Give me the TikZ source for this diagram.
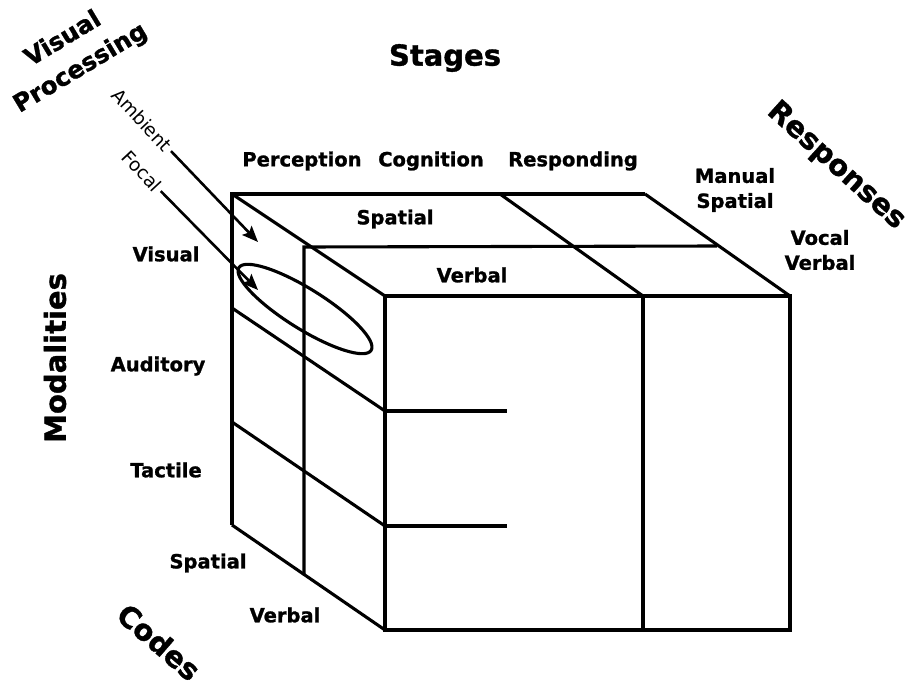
\documentclass[tikz,border=0pt]{standalone}
\usepackage{fontspec}
\setmainfont{DejaVu Sans}[BoldFeatures={FakeBold=1.2}]
\usetikzlibrary{arrows.meta}

\begin{document}
\begin{tikzpicture}[
    x=1pt, y=-1pt,
    wire/.style={line width=3.1pt},
    pointer/.style={-{Stealth[length=16pt, width=13pt, inset=3pt]}, line width=2.6pt},
    title/.style={font=\bfseries\fontsize{29}{34}\selectfont},
    entry/.style={font=\bfseries\fontsize{19.5}{25}\selectfont, align=center},
    cue/.style={font=\fontsize{18.5}{22}\selectfont, rotate=-47}
]

\useasboundingbox (0,0) rectangle (910,685);

% Back and middle layers
\draw[wire] (232,525) -- (232,194) -- (645,194);
\draw[wire] (304,575) -- (304,247) -- (717,246);

% Front face
\draw[wire] (385,296) rectangle (790,630);
\draw[wire] (643,296) -- (643,630);
\foreach \y in {411,526}
  \draw[wire] (385,\y) -- (507,\y);

% Receding edges
\draw[wire] (232,194) -- (385,296);
\draw[wire] (500,194) -- (643,296);
\draw[wire] (645,194) -- (790,296);
\foreach \yb/\yf in {308/411, 422/526, 525/630}
  \draw[wire] (232,\yb) -- (385,\yf);

% Focal region
\draw[wire, rotate around={-32:(305,309)}] (305,309) ellipse [x radius=78pt, y radius=20pt];

% Dimension titles
\node[title] (stages) at (445,58) {Stages};
\node[title, font=\bfseries\fontsize{24.5}{34}\selectfont, align=center, rotate=31] (vproc) at (72,54) {Visual\\Processing};
\node[title, rotate=-42] (responses) at (836,166) {Responses};
\node[title, rotate=90] (modalities) at (55,358) {Modalities};
\node[title, rotate=-41] (codes) at (159,642) {Codes};

% Stages
\node[entry] (perc) at (302,161) {Perception};
\node[entry] (cogn) at (431,161) {Cognition};
\node[entry] (respd) at (573,161) {Responding};

% Top face codes
\node[entry] (topsp) at (395,219) {Spatial};
\node[entry] (topvb) at (472,275) {Verbal};

% Responses
\node[entry] (manual) at (735,190) {Manual\\Spatial};
\node[entry] (vocal) at (820,250) {Vocal\\Verbal};

% Modalities
\node[entry] (vis) at (166,254) {Visual};
\node[entry] (aud) at (158,366) {Auditory};
\node[entry] (tac) at (166,470) {Tactile};

% Codes
\node[entry] (codesp) at (208,563) {Spatial};
\node[entry] (codevb) at (285,615) {Verbal};

% Visual processing
\node[cue] (amb) at (142,120) {Ambient};
\node[cue] (foc) at (142,171) {Focal};
\coordinate (ambtip) at (258,242);
\coordinate (foctip) at (258,290);
\draw[pointer] (amb.east) -- (ambtip);
\draw[pointer] (foc.east) -- (foctip);

\end{tikzpicture}
\end{document}
